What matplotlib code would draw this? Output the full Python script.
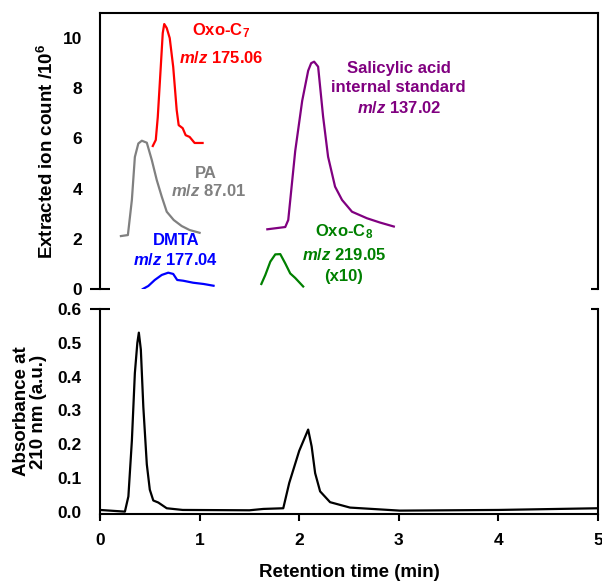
"""Broken-axis chromatogram: extracted ion counts (top) and UV absorbance (bottom)."""

import matplotlib
matplotlib.use("Agg")
import matplotlib.pyplot as plt
import matplotlib.ticker as mticker

plt.rcParams["font.family"] = "Liberation Sans"
plt.rcParams["font.weight"] = "bold"
plt.rcParams["axes.labelweight"] = "bold"
plt.rcParams["mathtext.fontset"] = "custom"
plt.rcParams["mathtext.rm"] = "Liberation Sans:bold"
plt.rcParams["mathtext.bf"] = "Liberation Sans:bold"
plt.rcParams["mathtext.it"] = "Liberation Sans:bold:italic"

# ---------------------------------------------------------------------------
# Data
# ---------------------------------------------------------------------------
oxo_c7_t = [0.53, 0.56, 0.58, 0.61, 0.63, 0.645, 0.67, 0.70, 0.735, 0.77, 0.79,
            0.83, 0.86, 0.90, 0.95, 1.03]
oxo_c7_y = [5.70, 5.94, 6.85, 8.85, 10.2, 10.56, 10.4, 10.0, 8.85, 7.13, 6.53,
            6.41, 6.13, 6.06, 5.82, 5.82]

pa_t = [0.21, 0.28, 0.32, 0.35, 0.385, 0.42, 0.47, 0.52, 0.57, 0.62, 0.67,
        0.74, 0.82, 0.90, 1.00]
pa_y = [2.11, 2.15, 3.55, 5.26, 5.80, 5.91, 5.83, 5.14, 4.34, 3.68, 3.08,
        2.75, 2.51, 2.35, 2.24]

dmta_t = [0.43, 0.485, 0.55, 0.62, 0.685, 0.735, 0.775, 0.835, 0.935, 1.04, 1.14]
dmta_y = [0.00, 0.12, 0.36, 0.56, 0.65, 0.60, 0.36, 0.33, 0.25, 0.20, 0.13]

sal_t = [1.68, 1.86, 1.89, 1.96, 2.03, 2.09, 2.12, 2.15, 2.19, 2.24, 2.29,
         2.36, 2.43, 2.53, 2.68, 2.81, 2.95]
sal_y = [2.38, 2.47, 2.75, 5.50, 7.50, 8.70, 9.00, 9.06, 8.86, 6.87, 5.27,
         4.08, 3.55, 3.08, 2.82, 2.65, 2.49]

oxo_c8_t = [1.62, 1.66, 1.71, 1.76, 1.81, 1.86, 1.91, 1.96, 2.04]
oxo_c8_y = [0.20, 0.56, 1.09, 1.38, 1.39, 1.02, 0.62, 0.44, 0.10]

uv_t = [0.00, 0.25, 0.285, 0.32, 0.35, 0.375, 0.39, 0.41, 0.435, 0.47, 0.50,
        0.535, 0.585, 0.62, 0.67, 0.83, 1.50, 1.64, 1.84, 1.90, 2.00, 2.09,
        2.125, 2.16, 2.21, 2.31, 2.51, 3.01, 4.00, 5.00]
uv_y = [0.005, 0.000, 0.045, 0.21, 0.41, 0.50, 0.53, 0.48, 0.31, 0.14, 0.065,
        0.033, 0.027, 0.020, 0.010, 0.005, 0.004, 0.008, 0.010, 0.085, 0.18,
        0.243, 0.193, 0.114, 0.060, 0.028, 0.012, 0.003, 0.005, 0.010]

RED, GRAY, BLUE, PURPLE, GREEN = "#FF0000", "#808080", "#0000FF", "#800080", "#008000"
LW = 1.6
FS = 12          # annotation size
TICK_FS = 12.5
LABEL_FS = 13.5


def stub(ax, y, x0, x1, color="black", lw=1.5):
    """Short horizontal line in axes coordinates (broken-axis end marks)."""
    ax.plot([x0, x1], [y, y], transform=ax.transAxes, color=color, lw=lw,
            clip_on=False, solid_capstyle="butt")


def main():
    W, H = 602, 582
    fig = plt.figure(figsize=(W / 100, H / 100), dpi=100)

    left, right = 100 / W, 598 / W
    ax1 = fig.add_axes([left, 1 - 289 / H, right - left, (289 - 13) / H])
    ax2 = fig.add_axes([left, 1 - 514 / H, right - left, (514 - 309) / H])

    # ── upper panel: extracted ion chromatograms ───────────────────────────
    ax1.plot(oxo_c7_t, oxo_c7_y, color=RED, lw=LW)
    ax1.plot(pa_t, pa_y, color=GRAY, lw=LW)
    ax1.plot(dmta_t, dmta_y, color=BLUE, lw=LW)
    ax1.plot(sal_t, sal_y, color=PURPLE, lw=LW)
    ax1.plot(oxo_c8_t, oxo_c8_y, color=GREEN, lw=LW)

    ax1.set_xlim(0, 5)
    ax1.set_ylim(0, 11)
    ax1.set_yticks([0, 2, 4, 6, 8, 10])
    ax1.set_xticks([])
    ax1.spines["bottom"].set_visible(False)
    for s in ("left", "top", "right"):
        ax1.spines[s].set_linewidth(1.5)
    ax1.tick_params(axis="y", length=0, pad=13, labelsize=TICK_FS)
    ax1.set_ylabel("Extracted ion count /10$^6$", fontsize=LABEL_FS, labelpad=4)
    stub(ax1, 0, -0.02, 0.02)
    stub(ax1, 0, 1 - 0.014, 1)

    txt = dict(ha="center", va="center", fontsize=FS, fontweight="bold")
    ax1.text(1.22, 10.3, "Oxo-C$_7$", color=RED, **txt)
    ax1.text(1.22, 9.22, "$m/z$ 175.06", color=RED, **txt)
    ax1.text(3.0, 8.8, "Salicylic acid", color=PURPLE, **txt)
    ax1.text(3.0, 8.02, "internal standard", color=PURPLE, **txt)
    ax1.text(3.0, 7.22, "$m/z$ 137.02", color=PURPLE, **txt)
    ax1.text(1.06, 4.6, "PA", color=GRAY, **txt)
    ax1.text(1.09, 3.9, "$m/z$ 87.01", color=GRAY, **txt)
    ax1.text(0.76, 1.95, "DMTA", color=BLUE, **txt)
    ax1.text(0.76, 1.15, "$m/z$ 177.04", color=BLUE, **txt)
    ax1.text(2.45, 2.28, "Oxo-C$_8$", color=GREEN, **txt)
    ax1.text(2.45, 1.36, "$m/z$ 219.05", color=GREEN, **txt)
    ax1.text(2.45, 0.48, "(x10)", color=GREEN, **txt)

    # ── lower panel: UV absorbance ──────────────────────────────────────────
    ax2.plot(uv_t, uv_y, color="black", lw=LW)
    ax2.set_xlim(0, 5)
    ax2.set_ylim(-0.007, 0.6)
    ax2.set_yticks([0.0, 0.1, 0.2, 0.3, 0.4, 0.5, 0.6])
    ax2.yaxis.set_major_formatter(mticker.FormatStrFormatter("%.1f"))
    ax2.set_xticks([0, 1, 2, 3, 4, 5])
    ax2.spines["top"].set_visible(False)
    for s in ("left", "bottom", "right"):
        ax2.spines[s].set_linewidth(1.5)
    ax2.spines["left"].set_bounds(-0.015, 0.6)
    ax2.tick_params(axis="y", length=0, pad=13, labelsize=TICK_FS)
    ax2.tick_params(axis="x", length=5, width=1.5, pad=9, labelsize=TICK_FS)
    ax2.set_ylabel("Absorbance at\n210 nm (a.u.)", fontsize=LABEL_FS, labelpad=8,
                   linespacing=1.0)
    ax2.set_xlabel("Retention time (min)", fontsize=LABEL_FS, labelpad=11)
    stub(ax2, 1, -0.02, 0.02)
    stub(ax2, 1, 1 - 0.014, 1)

    fig.savefig("out.png", dpi=100)


if __name__ == "__main__":
    main()
